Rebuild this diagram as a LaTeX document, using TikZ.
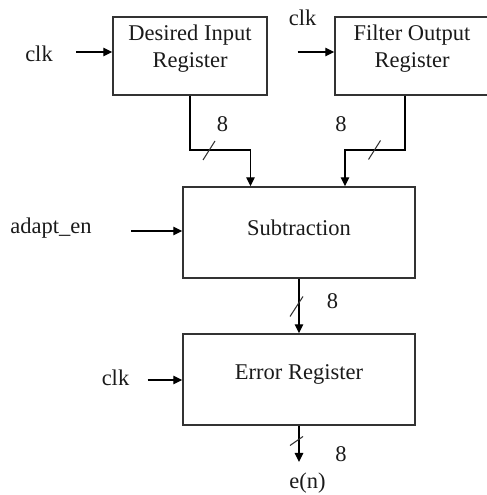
\documentclass[tikz,border=0pt]{standalone}
\usepackage{fontspec}
\setmainfont{Liberation Serif}
\usepackage{xcolor}
\usetikzlibrary{arrows.meta,calc}
\definecolor{ink}{HTML}{1A1A1A}
\definecolor{frame}{HTML}{333333}
\tikzset{
  block/.style={draw=frame, line width=0.8pt, minimum width=4.64cm, minimum height=1.82cm, inner sep=0pt},
  reg/.style={block, minimum width=3.08cm, minimum height=1.56cm},
  wire/.style={draw=black, line width=0.75pt, -{Triangle[length=1.8mm,width=1.7mm]}},
  bus/.style={draw=frame, line width=0.6pt},
  lab/.style={text=ink, font=\fontsize{12.8}{15.4}\selectfont, inner sep=0pt},
  note/.style={text=ink, font=\fontsize{12.8}{15.4}\selectfont, inner sep=0pt}
}
\newcommand{\BusSlash}[3]{%
  % #1 = centre of the slash, #2 = width, #3 = height
  \draw[bus] ($(#1)+(-0.5*#2,-0.5*#3)$) -- ++(#2,#3);
}

\begin{document}
\begin{tikzpicture}
  \useasboundingbox (0,0) rectangle (9.72,9.90);
  % registers and blocks
  \node[reg, label={[lab,align=center,anchor=north,yshift=-0.16cm]north:Desired Input\\Register}] (din) at (3.80,8.78) {};
  \node[reg, label={[lab,align=center,anchor=north,yshift=-0.16cm]north:Filter Output\\Register}] (fout) at (8.24,8.78) {};
  \node[block, label={[lab,yshift=0.09cm]center:Subtraction}] (sub) at (5.98,5.25) {};
  \node[block, label={[lab,yshift=0.11cm]center:Error Register}] (err) at (5.98,2.31) {};
  % inputs
  \node[lab] (clka) at (0.78,8.83) {clk};
  \node[lab] (clkb) at (6.05,9.55) {clk};
  \node[lab] (aen) at (1.02,5.34) {adapt\_en};
  \node[lab] (clkc) at (2.31,2.34) {clk};
  \coordinate (clkain) at (1.52,8.86);
  \coordinate (clkbin) at (5.95,8.86);
  \coordinate (aenin) at (2.62,5.28);
  \coordinate (clkcin) at (2.95,2.30);
  \draw[wire] (clkain) -- (clkain -| din.west);
  \draw[wire] (clkbin) -- (clkbin -| fout.west);
  \draw[wire] (aenin) -- (aenin -| sub.west);
  \draw[wire] (clkcin) -- (clkcin -| err.west);
  % data paths
  \coordinate (dbend) at (5.01,6.90);
  \coordinate (ftap) at ($(fout.south)+(-0.14,0)$);
  \coordinate (fbend) at (6.90,6.90);
  \draw[wire] (din.south) |- (dbend) -- (dbend |- sub.north);
  \draw[wire] (ftap) |- (fbend) -- (fbend |- sub.north);
  \draw[wire] (sub.south) -- (err.north);
  \coordinate (eout) at (5.98,0.66);
  \draw[wire] (err.south) -- (eout);
  \node[lab, anchor=south] (en) at (6.15,0.03) {e(n)};
  % bus widths
  \BusSlash{4.18,6.89}{0.24}{0.38}
  \BusSlash{7.49,6.90}{0.24}{0.38}
  \BusSlash{5.93,3.77}{0.26}{0.40}
  \BusSlash{5.93,1.08}{0.26}{0.18}
  \node[note] (wa) at (4.45,7.42) {8};
  \node[note] (wb) at (6.82,7.42) {8};
  \node[note] (wc) at (6.65,3.87) {8};
  \node[note] (wd) at (6.82,0.82) {8};
\end{tikzpicture}
\end{document}
